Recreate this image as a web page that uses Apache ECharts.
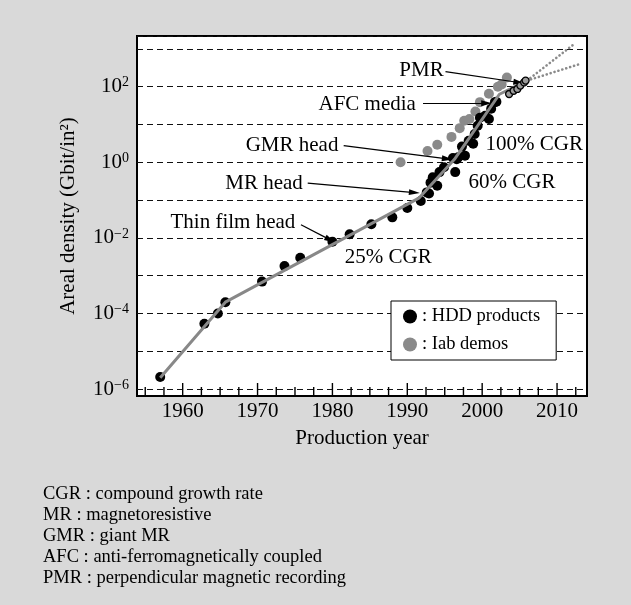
<!DOCTYPE html>
<html><head><meta charset="utf-8">
<script src="https://cdn.jsdelivr.net/npm/echarts@6/dist/echarts.min.js"></script>
<style>html,body{margin:0;padding:0;background:#d9d9d9;}#c{width:631px;height:605px;}</style>
</head><body><div id="c"></div>
<script>
const FONT = 'Liberation Serif';

// HDD products (year, areal density Gbit/in^2)
const hddYears = [1957.0, 1962.9, 1964.7, 1965.7, 1970.6, 1973.6, 1975.7, 1980.0, 1982.3, 1985.2, 1988.0, 1990.0, 1991.8, 1992.6, 1992.9, 1993.1, 1993.4, 1994.0, 1994.3, 1994.9, 1996.1, 1996.4, 1996.6, 1996.8, 1997.3, 1997.7, 1998.2, 1998.8, 1999.0, 1999.4, 1999.7, 2000.4, 2000.9, 2001.2, 2001.7, 2001.9];
const hddDensity = [2.1e-6, 5.4e-5, 1.0e-4, 2.0e-4, 7.0e-4, 1.8e-3, 3.0e-3, 7.9e-3, 1.25e-2, 2.3e-2, 3.5e-2, 6.2e-2, 9.5e-2, 0.16, 0.15, 0.29, 0.40, 0.24, 0.55, 0.74, 1.3, 0.55, 1.2, 1.35, 2.6, 1.5, 3.7, 3.1, 5.6, 9.3, 15, 17, 14, 26, 39, 40];

// PMR products (small open circles)
const pmrYears = [2003.6, 2004.2, 2004.7, 2005.1, 2005.6, 2005.8];
const pmrDensity = [64, 78, 87, 107, 130, 145];

// Lab demos
const demoYears = [1989.1, 1992.7, 1994.0, 1995.9, 1997.0, 1997.6, 1998.3, 1999.1, 1999.7, 2000.9, 2002.1, 2002.6, 2003.3];
const demoDensity = [1.0, 2.0, 2.9, 4.7, 8.0, 12.6, 14, 22, 39, 65, 100, 115, 175];

// Trend line (25% / 60% / 100% CGR segments)
const trendYears = [1957.0, 1965.7, 1991.6, 1996.3, 2002.3, 2006.0];
const trendDensity = [2.0e-6, 2.0e-4, 0.115, 1.2, 63, 145];

// Projections (dotted)
const projHighYears = [2006.0, 2012.3];
const projHighDensity = [145, 1350];
const projLowYears = [2006.0, 2013.1];
const projLowDensity = [145, 400];

// Annotations
const noteTexts = ['PMR', 'AFC media', 'GMR head', 'MR head', 'Thin film head', '100% CGR', '60% CGR', '25% CGR'];
const noteYears = [1991.9, 1984.64, 1974.61, 1970.87, 1966.71, 2006.95, 2003.98, 1987.45];
const noteDensity = [263, 34.7, 2.85, 0.282, 0.026, 2.99, 0.291, 0.0031];

// Arrows: from (year, density) to (year, density)
const arrowFromYears = [1995.1, 1992.1, 1981.5, 1976.7, 1975.8];
const arrowFromDensity = [251, 36.3, 2.75, 0.282, 0.0224];
const arrowToYears = [2004.9, 2000.6, 1995.35, 1990.95, 1979.7];
const arrowToDensity = [129, 36.3, 1.23, 0.158, 0.0089];

// Axis ranges and ticks
const xMin = 1953.9, xMax = 2014;
const yMin = Math.pow(10, -6.18), yMax = Math.pow(10, 3.34);
const xLabelYears = [1960, 1970, 1980, 1990, 2000, 2010];
const xMinorYears = [1955, 1957.5, 1962.5, 1965, 1967.5, 1972.5, 1975, 1977.5, 1982.5, 1985, 1987.5, 1992.5, 1995, 1997.5, 2002.5, 2005, 2007.5, 2012.5];

const glossary = [
  'CGR : compound growth rate',
  'MR : magnetoresistive',
  'GMR : giant MR',
  'AFC : anti-ferromagnetically coupled',
  'PMR : perpendicular magnetic recording'
];

const zip = (a, b) => a.map((v, i) => [v, b[i]]);

const chart = echarts.init(document.getElementById('c'), null, {renderer: 'canvas'});

const option = {
  animation: false,
  backgroundColor: '#d9d9d9',
  grid: {left: 137, top: 36, width: 450, height: 360, show: true, backgroundColor: '#fff', borderColor: '#000', borderWidth: 2},
  xAxis: {
    type: 'value', min: xMin, max: xMax, position: 'bottom',
    axisLine: {show: true, lineStyle: {color: '#000', width: 2}}, splitLine: {show: false},
    axisTick: {show: false},
    axisLabel: {customValues: xLabelYears, formatter: v => String(v), margin: 5, fontSize: 21, fontFamily: FONT, color: '#000'},
    name: 'Production year', nameLocation: 'middle', nameGap: 32,
    nameTextStyle: {fontSize: 21, fontFamily: FONT, color: '#000'}
  },
  yAxis: {
    type: 'log', logBase: 10, min: yMin, max: yMax,
    axisLine: {show: false}, axisTick: {show: false},
    splitLine: {show: true, lineStyle: {color: '#111', type: [6, 4], width: 1}},
    axisLabel: {
      margin: 8,
      formatter: function (v) {
        const e = Math.log10(v);
        const r = Math.round(e);
        if (Math.abs(e - r) > 1e-6 || r % 2 !== 0) return '';
        return '{b|10}{s|' + (r < 0 ? '\u2212' + (-r) : r) + '}';
      },
      rich: {
        b: {fontSize: 21, lineHeight: 22, fontFamily: FONT, color: '#000'},
        s: {fontSize: 14, lineHeight: 14, verticalAlign: 'top', fontFamily: FONT, color: '#000'}
      }
    },
    name: 'Areal density (Gbit/in\u00b2)', nameLocation: 'middle', nameGap: 58, nameRotate: 90,
    nameTextStyle: {fontSize: 21, fontFamily: FONT, color: '#000'}
  },
  legend: {
    orient: 'vertical', left: 391, top: 301,
    backgroundColor: '#fff', borderColor: '#000', borderWidth: 1,
    padding: [6, 16, 6, 12], itemGap: 9, itemWidth: 14, itemHeight: 14,
    icon: 'circle',
    formatter: ': {name}',
    textStyle: {fontSize: 18.5, fontFamily: FONT, color: '#000'},
    data: ['HDD products', 'Iab demos']
  },
  series: [
    {name: 'majorTicks', type: 'scatter', silent: true, z: 8, clip: false,
     symbol: 'rect', symbolSize: [1.4, 13], symbolOffset: [0, -6.5],
     itemStyle: {color: '#000', opacity: 1},
     data: xLabelYears.map(y => [y, yMin])},
    {name: 'minorTicks', type: 'scatter', silent: true, z: 8, clip: false,
     symbol: 'rect', symbolSize: [1.4, 9], symbolOffset: [0, -4.5],
     itemStyle: {color: '#000', opacity: 1},
     data: xMinorYears.map(y => [y, yMin])},
    {name: 'Iab demos', type: 'scatter', symbolSize: 10, itemStyle: {color: '#8a8a8a', opacity: 1}, z: 3,
     data: zip(demoYears, demoDensity)},
    {name: 'HDD products', type: 'scatter', symbolSize: 10, itemStyle: {color: '#000', opacity: 1}, z: 4,
     data: zip(hddYears, hddDensity)},
    {name: 'trend', type: 'line', symbol: 'none', z: 5, lineStyle: {color: '#888', width: 3},
     data: zip(trendYears, trendDensity)},
    {name: 'projHigh', type: 'line', symbol: 'none', z: 5, lineStyle: {color: '#8a8a8a', width: 2.6, type: [0.1, 4], cap: 'round'},
     data: zip(projHighYears, projHighDensity)},
    {name: 'projLow', type: 'line', symbol: 'none', z: 5, lineStyle: {color: '#8a8a8a', width: 2.6, type: [0.1, 4], cap: 'round'},
     data: zip(projLowYears, projLowDensity)},
    {name: 'PMR products', type: 'scatter', symbolSize: 7, z: 6,
     itemStyle: {color: '#9a9a9a', borderColor: '#000', borderWidth: 1.3, opacity: 1},
     data: zip(pmrYears, pmrDensity)},
    {name: 'notes', type: 'scatter', symbolSize: 0, z: 7, silent: true,
     itemStyle: {opacity: 1},
     label: {show: true, position: 'inside', formatter: '{b}', fontSize: 21, fontFamily: FONT, color: '#000', opacity: 1},
     data: noteTexts.map((t, i) => ({name: t, value: [noteYears[i], noteDensity[i]]})),
     markLine: {
       silent: true, symbol: ['none', 'triangle'], symbolSize: [6, 11],
       lineStyle: {color: '#000', width: 1.2, type: 'solid', opacity: 1},
       itemStyle: {color: '#000'},
       label: {show: false},
       data: arrowFromYears.map((y, i) => [
         {coord: [y, arrowFromDensity[i]]},
         {coord: [arrowToYears[i], arrowToDensity[i]]}
       ])
     }}
  ],
  graphic: glossary.map((t, i) => ({
    type: 'text', left: 43, top: 485 + 21 * i,
    style: {text: t, fontSize: 18.5, fontFamily: FONT, fill: '#000'}
  }))
};
chart.setOption(option);
</script>
</body></html>
